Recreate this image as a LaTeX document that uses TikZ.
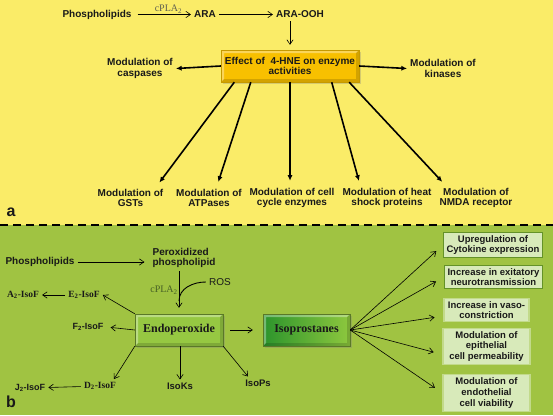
\documentclass[tikz,border=0pt]{standalone}
\usepackage{fontspec}
\setmainfont{Liberation Sans}
\newfontfamily\timesfont{Liberation Serif}
\usetikzlibrary{arrows.meta,shadows}

\definecolor{bgyellow}{RGB}{250,236,104}
\definecolor{bggreen}{RGB}{160,195,66}
\definecolor{hnegold}{RGB}{248,192,0}
\definecolor{endogreen}{RGB}{150,200,66}
\definecolor{isodark}{RGB}{44,148,44}
\definecolor{isolight}{RGB}{142,200,62}
\definecolor{boxpale}{RGB}{216,234,186}
\definecolor{boxedge}{RGB}{100,146,40}
\definecolor{cplagray}{RGB}{96,96,80}
\definecolor{cplagreen}{RGB}{70,96,36}

\begin{document}
\begin{tikzpicture}[x=1pt, y=-1pt,
	every node/.style={font=\fontsize{10}{10.7}\selectfont\bfseries, text=black!90, inner sep=3pt},
	thin arr/.style={-{Straight Barb[length=1.6mm,width=2.2mm]}, line width=0.6pt},
	thick arr/.style={-{Latex[length=2mm,width=1.8mm]}, line width=1.6pt},
	cpla/.style={font=\fontsize{10}{12}\selectfont\timesfont\mdseries, inner sep=1pt},
	isof/.style={font=\fontsize{9.5}{11}\selectfont\timesfont\bfseries},
	bevel/.style={path picture={
		\fill[white,opacity=0.35] (path picture bounding box.north west) -- (path picture bounding box.north east) -- ([shift={(-3pt,-3pt)}]path picture bounding box.north east) -- ([shift={(3pt,-3pt)}]path picture bounding box.north west) -- ([shift={(3pt,3pt)}]path picture bounding box.south west) -- (path picture bounding box.south west) -- cycle;
		\fill[black,opacity=0.15] (path picture bounding box.south east) -- (path picture bounding box.south west) -- ([shift={(3pt,3pt)}]path picture bounding box.south west) -- ([shift={(-3pt,3pt)}]path picture bounding box.south east) -- ([shift={(-3pt,-3pt)}]path picture bounding box.north east) -- (path picture bounding box.north east) -- cycle;
	}},
	hnebox/.style={bevel, fill=hnegold, draw=hnegold!80!black, line width=0.4pt, minimum width=138pt, minimum height=32pt, align=center, drop shadow={opacity=0.3, shadow xshift=1.5pt, shadow yshift=-1.5pt}},
	greenbox/.style={bevel, draw=black!40!endogreen, line width=0.4pt, minimum height=32pt, font=\fontsize{12}{14}\selectfont\timesfont\bfseries, drop shadow={opacity=0.3, shadow xshift=1.5pt, shadow yshift=-1.5pt}},
	outcome/.style={fill=boxpale, draw=boxpale!60!bggreen, line width=1.2pt, align=center, font=\fontsize{9.5}{10.7}\selectfont\bfseries},
	outcome strong/.style={outcome, draw=boxedge}]
	\useasboundingbox (0,0) rectangle (553,415);
	\fill[bgyellow] (0,0) rectangle (553,225);
	\fill[bggreen] (0,225) rectangle (553,415);
	\draw[line width=1.6pt, dash pattern=on 8pt off 5pt] (0,225) -- (553,225);
	\node[font=\fontsize{16}{16}\selectfont\bfseries] (pa) at (11,212) {a};
	\node[font=\fontsize{16}{16}\selectfont\bfseries] (pb) at (11,402) {b};

	\node (phA) at (97,14.5) {Phospholipids};
	\node (araA) at (205,14.5) {ARA};
	\node (araooh) at (300,14.5) {ARA-OOH};
	\node[hnebox] (effect) at (290,66) {Effect of\ \ 4-HNE on enzyme\\activities};
	\node[align=center] (casp) at (140,68.5) {Modulation of\\caspases};
	\node[align=center] (kin) at (443,68.5) {Modulation of\\kinases};
	\node[align=center] (gst) at (130.5,198) {Modulation of\\GSTs};
	\node[align=center] (atp) at (209,198) {Modulation of\\ATPases};
	\node[align=center] (cyc) at (292,198) {Modulation of cell\\cycle enzymes};
	\node[align=center] (hsp) at (387,198) {Modulation of heat\\shock proteins};
	\node[align=center] (nmda) at (476,198) {Modulation of\\NMDA receptor};
	\draw[thin arr, shorten <=3pt] (phA) -- node[above, cpla, text=cplagray, pos=0.6] (cplaA) {cPLA\textsubscript{2}} (araA);
	\draw[thin arr] (araA) -- (araooh);
	\draw[thin arr, shorten >=5pt] (araooh.south -| effect.north) -- (effect.north);
	\draw[thick arr] (effect.west) -- (casp.east);
	\draw[thick arr] (effect.east) -- (kin.west);
	\draw[thick arr, shorten >=4pt] ([xshift=13.5pt]effect.south west) -- ([xshift=26.5pt]gst.north);
	\draw[thick arr, shorten >=4pt] ([xshift=30pt]effect.south west) -- ([xshift=8pt]atp.north);
	\draw[thick arr, shorten >=4pt] (effect.south) -- (effect.south |- cyc.north);
	\draw[thick arr, shorten >=4pt] ([xshift=-27.5pt]effect.south east) -- ([xshift=-27pt]hsp.north);
	\draw[thick arr, shorten >=4pt] ([xshift=-10pt]effect.south east) -- ([xshift=-31pt]nmda.north);

	\node (phB) at (40,262) {Phospholipids};
	\node[align=left] (perox) at (184,258) {Peroxidized\\phospholipid};
	\node[greenbox, fill=endogreen, minimum width=88pt] (endo) at (179,330) {Endoperoxide};
	\node[greenbox, left color=isodark, right color=isolight, minimum width=87pt] (isop) at (306.5,330) {Isoprostanes};
	\node[font=\fontsize{10}{12}\selectfont\mdseries] (ros) at (220,282) {ROS};
	\coordinate (rosjoin) at (179,301);
	\node[isof] (e2) at (84,295) {E\textsubscript{2}-IsoF};
	\node[isof] (a2) at (23,295) {A\textsubscript{2}-IsoF};
	\node[font=\fontsize{9}{11}\selectfont\bfseries] (f2) at (88,327) {F\textsubscript{2}-IsoF};
	\node[isof] (d2) at (100,386) {D\textsubscript{2}-IsoF};
	\node[font=\fontsize{9}{11}\selectfont\bfseries] (j2) at (30,388) {J\textsubscript{2}-IsoF};
	\node[font=\fontsize{9.5}{11}\selectfont\bfseries] (isok) at (180,386) {IsoKs};
	\node[font=\fontsize{9.5}{11}\selectfont\bfseries] (isops) at (258,383) {IsoPs};
	\node[outcome strong] (up) at (493,245) {Upregulation of\\Cytokine expression};
	\node[outcome strong] (exc) at (493.5,277) {Increase in exitatory\\neurotransmission};
	\node[outcome, minimum width=85pt] (vaso) at (486.5,310) {Increase in vaso-\\constriction};
	\node[outcome, minimum width=87pt] (epi) at (486.5,346.5) {Modulation of\\epithelial\\cell permeability};
	\node[outcome, minimum width=87pt] (endv) at (486.5,393) {Modulation of\\endothelial\\cell viability};
	\draw[thin arr, shorten >=5pt] (phB) -- (phB -| perox.west);
	\draw[thin arr, shorten >=6pt] (perox.south -| endo.north) -- node[left, cpla, text=cplagreen, pos=0.45] (cplaB) {cPLA\textsubscript{2}} (endo.north);
	\draw[line width=0.9pt] (ros.west) to[out=180, in=90] (rosjoin);
	\draw[thin arr, shorten <=7pt, shorten >=10pt] (endo) -- (isop);
	\draw[thin arr] (endo.north west) -- (e2.east);
	\draw[thin arr] (e2) -- (a2);
	\draw[thin arr, shorten >=4pt] (endo.west) -- (f2.east);
	\draw[thin arr] (endo.south west) -- ([xshift=14pt]d2.north);
	\draw[thin arr] (d2) -- (j2);
	\draw[thin arr] (endo.south -| isok.north) -- (isok.north);
	\draw[thin arr] (endo.south east) -- ([xshift=-10pt]isops.north);
	\draw[thin arr, shorten >=9pt] (isop.east) -- (up.west);
	\draw[thin arr, shorten >=9pt] (isop.east) -- (exc.west);
	\draw[thin arr, shorten >=9pt] (isop.east) -- ([yshift=-6pt]vaso.west);
	\draw[thin arr, shorten >=9pt] (isop.east) -- ([yshift=-8pt]epi.west);
	\draw[thin arr, shorten >=9pt] (isop.east) -- (endv.west);
\end{tikzpicture}
\end{document}
